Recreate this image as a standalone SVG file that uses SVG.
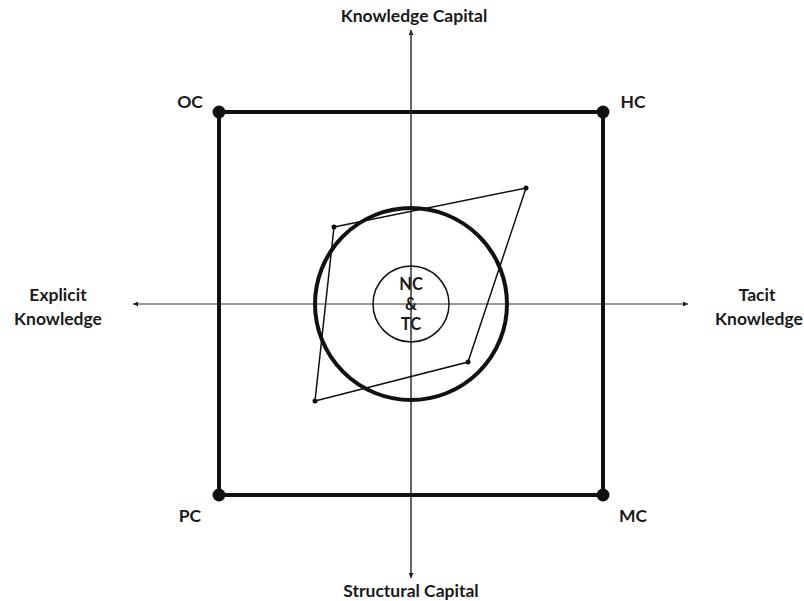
<svg xmlns="http://www.w3.org/2000/svg" width="804" height="601" viewBox="0 0 804 601">
<defs>
<marker id="ah" viewBox="0 0 10 10" refX="10" refY="5" markerWidth="6" markerHeight="5" orient="auto" markerUnits="userSpaceOnUse">
<path d="M0,0 L10,5 L0,10 z" fill="#222"/>
</marker>
</defs>
<style>
text{font-family:Lato,"Open Sans","Liberation Sans",sans-serif;font-weight:bold;font-size:17.5px;fill:#1a1a1a;text-anchor:middle}
.axis{stroke:#333;stroke-width:1;fill:none}
.thick{stroke:#111;stroke-width:4;fill:none}
.thin{stroke:#111;stroke-width:1.5;fill:none}
.dot{fill:#111}
</style>
<rect width="804" height="601" fill="#fff"/>
<g id="connectors">
<line class="axis" x1="411" y1="578" x2="411" y2="30" marker-end="url(#ah)"/>
<line class="axis" x1="411" y1="30" x2="411" y2="578" marker-end="url(#ah)"/>
<line class="axis" x1="411" y1="304" x2="688" y2="304" marker-end="url(#ah)"/>
<line class="axis" x1="411" y1="304" x2="133" y2="304" marker-end="url(#ah)"/>
</g>
<g id="square">
<rect class="thick" x="219" y="112" width="384" height="383"/>
</g>
<g id="OC"><circle class="dot" cx="219" cy="112" r="6.5"/><text x="190" y="108">OC</text></g>
<g id="HC"><circle class="dot" cx="603" cy="112" r="6.5"/><text x="633" y="108">HC</text></g>
<g id="PC"><circle class="dot" cx="219" cy="495" r="6.5"/><text x="190" y="522">PC</text></g>
<g id="MC"><circle class="dot" cx="603" cy="495" r="6.5"/><text x="633" y="522">MC</text></g>
<g id="big-circle"><circle class="thick" cx="411" cy="304" r="96"/></g>
<g id="polygon">
<polygon class="thin" points="334,227 526,188 468,362 315,401"/>
<circle class="dot" cx="334" cy="227" r="2.5"/>
<circle class="dot" cx="526" cy="188" r="2.5"/>
<circle class="dot" cx="468" cy="362" r="2.5"/>
<circle class="dot" cx="315" cy="401" r="2.5"/>
</g>
<g id="NCTC">
<circle class="thin" cx="411" cy="304" r="38"/>
<text x="411" y="290" style="font-size:16.5px">NC</text>
<text x="411" y="310" style="font-size:16.5px">&amp;</text>
<text x="411" y="330" style="font-size:16.5px">TC</text>
</g>
<g id="knowledge-capital"><text x="414" y="22">Knowledge Capital</text></g>
<g id="structural-capital"><text x="411" y="597">Structural Capital</text></g>
<g id="explicit"><text x="58" y="301">Explicit</text><text x="58" y="325">Knowledge</text></g>
<g id="tacit"><text x="757" y="301">Tacit</text><text x="759" y="325">Knowledge</text></g>
</svg>
